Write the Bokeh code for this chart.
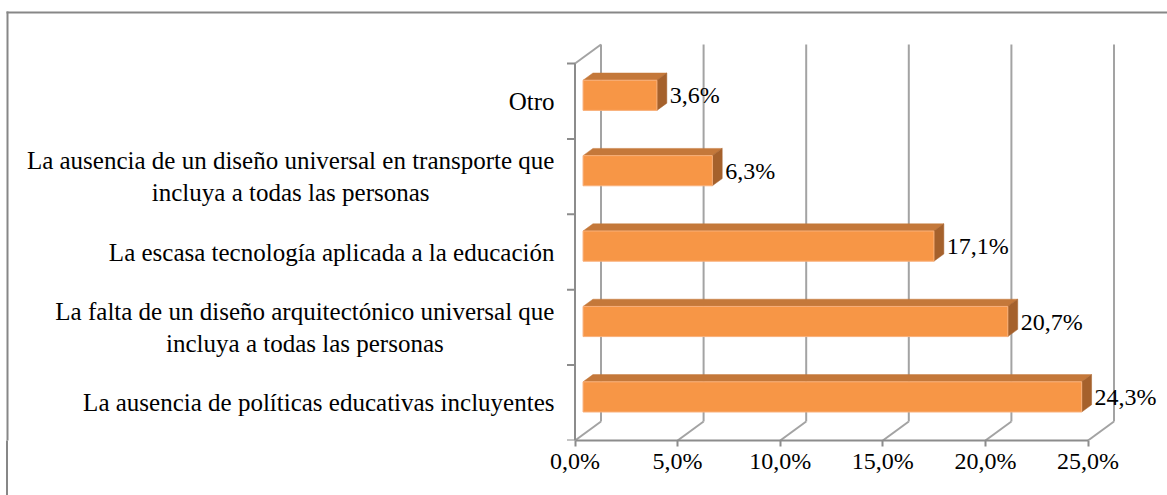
from bokeh.plotting import figure
from bokeh.models import Range1d, FixedTicker, BoxAnnotation
from bokeh.core.properties import value
from bokeh.embed import file_html
from bokeh.resources import INLINE

# ---------------- data ----------------
categories = [
    "La ausencia de políticas educativas incluyentes",
    "La falta de un diseño arquitectónico universal que\nincluya a todas las personas",
    "La escasa tecnología aplicada a la educación",
    "La ausencia de un diseño universal en transporte que\nincluya a todas las personas",
    "Otro",
]
values = [24.3, 20.7, 17.1, 6.3, 3.6]
value_labels = ["24,3%", "20,7%", "17,1%", "6,3%", "3,6%"]
tick_values = [0, 5, 10, 15, 20, 25]
tick_labels = ["0,0%", "5,0%", "10,0%", "15,0%", "20,0%", "25,0%"]

# ---------------- layout constants ----------------
W, H = 1167, 495
BOTTOM = 55
FRAME_H = H - BOTTOM
PX_X = 20.52          # px per percent
PX_Y = 75.4           # px per category band
ORIGIN_X = 574.5      # canvas x of 0 %
X0 = -ORIGIN_X / PX_X
X1 = X0 + W / PX_X
Y1 = FRAME_H / PX_Y
N = len(categories)

DEPTH_X = 26 / PX_X
DEPTH_Y = 19 / PX_Y
F1, F2 = 0.31, 0.69
BAR_H = 0.40

FONT = value("Liberation Serif")
GRID_C = "#a3a3a3"
AXIS_C = "#8c8c8c"
BORDER_C = "#878787"
FRONT_C = "#F79646"
TOP_C = "#C4783A"
SIDE_C = "#A5612C"

p = figure(width=W, height=H, output_backend="svg", toolbar_location=None,
           x_range=Range1d(X0, X1), y_range=Range1d(0, Y1),
           y_axis_location=None, x_axis_location="below",
           min_border_left=0, min_border_right=0, min_border_top=0,
           min_border_bottom=BOTTOM)
p.xgrid.visible = False
p.ygrid.visible = False
p.outline_line_color = None
p.background_fill_color = "white"
p.border_fill_color = None
# outer chart-area border (box is cropped on the right and bottom)
p.styles = {
    "background": (f"linear-gradient({BORDER_C},{BORDER_C}) 6px 11px / 2px 100% no-repeat, "
                   f"linear-gradient({BORDER_C},{BORDER_C}) 6px 11px / 100% 2px no-repeat, white"),
}

p.add_layout(BoxAnnotation(left=6, right=8, top=11, bottom=H,
                           left_units="canvas", right_units="canvas",
                           top_units="canvas", bottom_units="canvas",
                           fill_color=BORDER_C, fill_alpha=1, line_color=None))
p.add_layout(BoxAnnotation(left=6, right=W, top=11, bottom=13,
                           left_units="canvas", right_units="canvas",
                           top_units="canvas", bottom_units="canvas",
                           fill_color=BORDER_C, fill_alpha=1, line_color=None))

# back wall gridlines
p.segment(x0=[v + DEPTH_X for v in tick_values], y0=[DEPTH_Y] * len(tick_values),
          x1=[v + DEPTH_X for v in tick_values], y1=[N + DEPTH_Y] * len(tick_values),
          line_color=GRID_C, line_width=2)
# floor diagonals
p.segment(x0=tick_values, y0=[0] * len(tick_values),
          x1=[v + DEPTH_X for v in tick_values], y1=[DEPTH_Y] * len(tick_values),
          line_color=GRID_C, line_width=2)
# left wall top diagonal
p.segment(x0=[0], y0=[N], x1=[DEPTH_X], y1=[N + DEPTH_Y], line_color=GRID_C, line_width=2)

# front vertical (category) axis with ticks
p.segment(x0=[0], y0=[0], x1=[0], y1=[N], line_color=AXIS_C, line_width=2)
p.segment(x0=[-8 / PX_X] * (N + 1), y0=list(range(N + 1)),
          x1=[0] * (N + 1), y1=list(range(N + 1)), line_color=AXIS_C, line_width=2)

# bars (3D)
idx = list(range(N))
fx = F1 * DEPTH_X
fy = F1 * DEPTH_Y
bx = F2 * DEPTH_X
by = F2 * DEPTH_Y
bot = [i + 0.5 - BAR_H / 2 for i in idx]
top = [i + 0.5 + BAR_H / 2 for i in idx]

p.patches(xs=[[fx, v + fx, v + bx, bx] for v in values],
          ys=[[t + fy, t + fy, t + by, t + by] for t in top],
          fill_color=TOP_C, line_color=TOP_C, line_width=0.5)
p.patches(xs=[[v + fx, v + bx, v + bx, v + fx] for v in values],
          ys=[[b + fy, b + by, t + by, t + fy] for b, t in zip(bot, top)],
          fill_color=SIDE_C, line_color=SIDE_C, line_width=0.5)
p.quad(left=[fx] * N, right=[v + fx for v in values],
       bottom=[b + fy for b in bot], top=[t + fy for t in top],
       fill_color=FRONT_C, line_color="#F9B07A", line_width=1)

# value labels
p.text(x=[v + bx for v in values], y=[i + 0.5 + fy for i in idx], text=value_labels,
       x_offset=3, text_font=FONT, text_font_size="24px", text_color="black",
       text_align="left", text_baseline="middle")

# category labels (right block, lines centered) — width from Times metrics
AFM = {" ": 250, "L": 611, "O": 722, "a": 444, "b": 500, "c": 444, "d": 500, "e": 444,
       "f": 333, "g": 500, "h": 500, "i": 278, "j": 278, "k": 500, "l": 278, "m": 778,
       "n": 500, "o": 500, "p": 500, "q": 500, "r": 333, "s": 389, "t": 278, "u": 500,
       "v": 500, "w": 722, "x": 500, "y": 500, "z": 444, "í": 278, "ó": 500, "ñ": 500,
       "á": 444, "é": 444, "ú": 500}
CAT_FS = 25
RIGHT_PX = 554


def block_width(s):
    return max(sum(AFM.get(ch, 500) for ch in line) for line in s.split("\n")) * CAT_FS / 1000


cat_x = [X0 + (RIGHT_PX - block_width(c) / 2) / PX_X for c in categories]
p.text(x=cat_x, y=[i + 0.5 for i in idx], text=categories,
       text_font=FONT, text_font_size=f"{CAT_FS}px", text_color="black",
       text_align="center", text_baseline="middle", text_line_height=1.2)

# value axis
ax = p.xaxis[0]
ax.bounds = (0, 25)
ax.ticker = FixedTicker(ticks=tick_values)
ax.major_label_overrides = {t: l for t, l in zip(tick_values, tick_labels)}
ax.axis_line_color = AXIS_C
ax.axis_line_width = 2
ax.major_tick_line_color = AXIS_C
ax.major_tick_line_width = 2
ax.major_tick_out = 6
ax.major_tick_in = 0
ax.minor_tick_line_color = None
ax.major_label_text_font = "Liberation Serif"
ax.major_label_text_font_size = "24px"
ax.major_label_text_color = "black"
ax.major_label_standoff = 1

open("out.html", "w").write(file_html(p, INLINE))
